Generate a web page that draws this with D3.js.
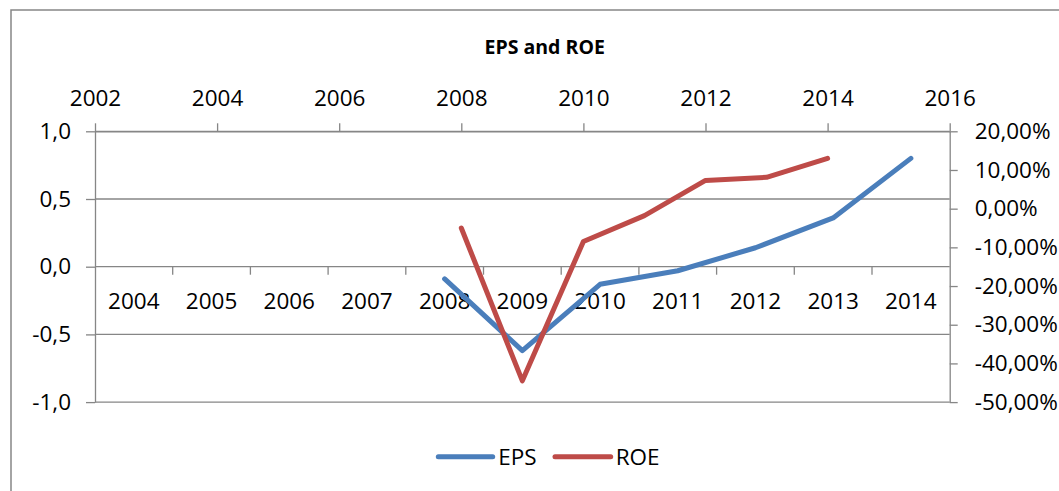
<!DOCTYPE html>
<html>
<head>
<meta charset="utf-8">
<script src="https://cdn.jsdelivr.net/npm/d3@7"></script>
<style>
  body { margin: 0; background: #fff; }
  text { font-family: "Open Sans", "Liberation Sans", sans-serif; fill: #000; }
</style>
</head>
<body>
<div id="chart"></div>
<script>
// data
var categories = ["2004", "2005", "2006", "2007", "2008", "2009", "2010", "2011", "2012", "2013", "2014"];
var epsYears = ["2008", "2009", "2010", "2011", "2012", "2013", "2014"];
var epsValues = [-0.09, -0.62, -0.13, -0.03, 0.14, 0.36, 0.80];
var roeYears = [2008, 2009, 2010, 2011, 2012, 2013, 2014];
var roeValues = [-0.05, -0.445, -0.085, -0.018, 0.073, 0.081, 0.13];
var leftTicks = [-1, -0.5, 0, 0.5, 1];
var rightTicks = [-0.5, -0.4, -0.3, -0.2, -0.1, 0, 0.1, 0.2];
var topTicks = [2002, 2004, 2006, 2008, 2010, 2012, 2014, 2016];

var W = 1059, H = 491;
// plot area (note: "top" is reserved on window)
var pLeft = 95, pRight = 949.7, pTop = 131.3, pBottom = 402.1;
var grey = "#868686";
var fs = "22.5px";

var loc = d3.formatLocale({ decimal: ",", thousands: ".", grouping: [3], currency: ["", ""], minus: "-" });

var svg = d3.select("#chart")
  .append("svg")
  .attr("width", W)
  .attr("height", H);

// outer chart border
svg.append("rect")
  .attr("x", 11).attr("y", 10)
  .attr("width", W + 20).attr("height", H + 20)
  .attr("fill", "#fff")
  .attr("stroke", grey)
  .attr("stroke-width", 1.5);

// title
svg.append("text")
  .attr("x", 544.7).attr("y", 54)
  .attr("text-anchor", "middle")
  .style("font-weight", "bold")
  .style("font-size", "19.5px")
  .text("EPS and ROE");

// scales
var xCat = d3.scaleBand().domain(categories).range([pLeft, pRight]).padding(0);
var yL = d3.scaleLinear().domain([-1, 1]).range([pBottom, pTop]);
var xTop = d3.scaleLinear().domain([2002, 2016]).range([pLeft, pRight]);
var yR = d3.scaleLinear().domain([-0.5, 0.2]).range([pBottom, pTop]);

// horizontal gridlines
svg.append("g").selectAll("line").data(leftTicks).enter()
  .append("line")
  .attr("x1", pLeft).attr("x2", pRight)
  .attr("y1", function (d) { return yL(d); })
  .attr("y2", function (d) { return yL(d); })
  .attr("stroke", grey)
  .attr("stroke-width", 1.3);

function styleAxis(g) {
  g.selectAll("path").attr("stroke", grey).attr("stroke-width", 1.3);
  g.selectAll("line").attr("stroke", grey).attr("stroke-width", 1.3);
  g.selectAll("text").style("font-size", fs).attr("fill", "#000");
}

// left axis
svg.append("g")
  .attr("transform", "translate(" + pLeft + ",0)")
  .call(d3.axisLeft(yL).tickValues(leftTicks).tickSize(9).tickPadding(15).tickSizeOuter(0)
    .tickFormat(loc.format(".1f")))
  .call(styleAxis);

// right axis (ROE)
svg.append("g")
  .attr("transform", "translate(" + pRight + ",0)")
  .call(d3.axisRight(yR).tickValues(rightTicks).tickSize(8).tickPadding(17).tickSizeOuter(0)
    .tickFormat(loc.format(".2%")))
  .call(styleAxis);

// top axis (years for ROE)
svg.append("g")
  .attr("transform", "translate(0," + pTop + ")")
  .call(d3.axisTop(xTop).tickValues(topTicks).tickSize(8).tickPadding(17).tickSizeOuter(0)
    .tickFormat(d3.format("d")))
  .call(styleAxis);

// category axis crossing at 0
var catAxis = svg.append("g")
  .attr("transform", "translate(0," + yL(0) + ")")
  .call(d3.axisBottom(xCat).tickSize(0).tickPadding(26.6))
  .call(styleAxis);
catAxis.select("path").remove();
// ticks between categories
catAxis.selectAll(".sep").data(categories.slice(1)).enter()
  .append("line")
  .attr("x1", function (d) { return xCat(d); })
  .attr("x2", function (d) { return xCat(d); })
  .attr("y1", 0).attr("y2", 8)
  .attr("stroke", grey)
  .attr("stroke-width", 1.3);

// series
var epsLine = d3.line()
  .x(function (d, i) { return xCat(epsYears[i]) + xCat.bandwidth() / 2; })
  .y(function (d) { return yL(d); });
var roeLine = d3.line()
  .x(function (d, i) { return xTop(roeYears[i]); })
  .y(function (d) { return yR(d); });

svg.append("path")
  .datum(epsValues)
  .attr("d", epsLine)
  .attr("fill", "none")
  .attr("stroke", "#4A7EBB")
  .attr("stroke-width", 5)
  .attr("stroke-linejoin", "round")
  .attr("stroke-linecap", "round");

svg.append("path")
  .datum(roeValues)
  .attr("d", roeLine)
  .attr("fill", "none")
  .attr("stroke", "#BE4B48")
  .attr("stroke-width", 5)
  .attr("stroke-linejoin", "round")
  .attr("stroke-linecap", "round");

// legend
var legend = [
  { name: "EPS", color: "#4A7EBB", x1: 438.3, x2: 492.7, tx: 498.3 },
  { name: "ROE", color: "#BE4B48", x1: 555, x2: 610.7, tx: 615.7 }
];
var lg = svg.append("g");
lg.selectAll("line").data(legend).enter()
  .append("line")
  .attr("x1", function (d) { return d.x1; })
  .attr("x2", function (d) { return d.x2; })
  .attr("y1", 456.7).attr("y2", 456.7)
  .attr("stroke", function (d) { return d.color; })
  .attr("stroke-width", 5)
  .attr("stroke-linecap", "round");
lg.selectAll("text").data(legend).enter()
  .append("text")
  .attr("x", function (d) { return d.tx; })
  .attr("y", 464.7)
  .style("font-size", fs)
  .text(function (d) { return d.name; });
</script>
</body>
</html>
